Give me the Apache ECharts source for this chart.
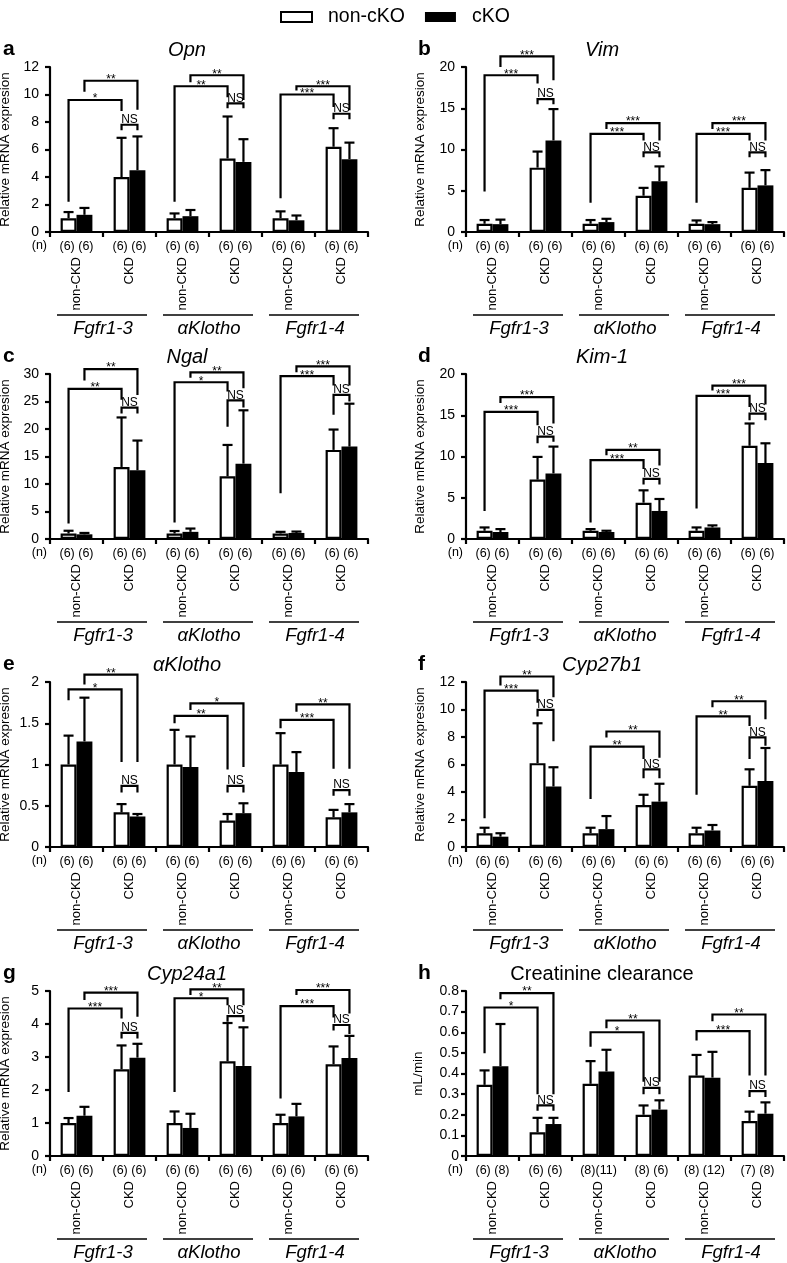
<!DOCTYPE html>
<html><head><meta charset="utf-8">
<script src="https://cdn.jsdelivr.net/npm/echarts@6/dist/echarts.min.js"></script>
<style>html,body{margin:0;padding:0;background:#fff}#c{width:787px;height:1263px}</style>
</head><body><div id="c"></div>
<script>
// ---- categories / labels ----
const conditions = ['non-CKD','CKD','non-CKD','CKD','non-CKD','CKD'];
const genes = ['Fgfr1-3','αKlotho','Fgfr1-4'];
const nMrna = ['(6) (6)','(6) (6)','(6) (6)','(6) (6)','(6) (6)','(6) (6)'];
const nClearance = ['(6) (8)','(6) (6)','(8)(11)','(8) (6)','(8) (12)','(7) (8)'];
const seriesNames = ['non-cKO','cKO'];

// ---- a: Opn ----
const opnNonCko   = [1.0, 4.0, 1.0, 5.35, 1.0, 6.2];
const opnNonCkoSd = [1.45, 6.85, 1.35, 8.4, 1.5, 7.55];
const opnCko      = [1.25, 4.5, 1.15, 5.1, 0.85, 5.3];
const opnCkoSd    = [1.75, 6.95, 1.6, 6.75, 1.2, 6.5];
// per gene group: white bracket [left,top,right], black bracket [left,top,right], NS bracket [left,top,right]
const opnBrackets = [[2.2,9.6,8.8, 10.2,11.0,8.9, 7.4,7.8,7.4],[2.2,10.6,9.8, 10.9,11.4,9.6, 9.0,9.35,9.0],[2.45,10.0,9.1, 10.3,10.6,8.85, 8.2,8.6,8.2]];
const opnStars = [['*','**'],['**','**'],['***','***']];

// ---- b: Vim ----
const vimNonCko   = [1.0, 7.8, 1.0, 4.4, 1.0, 5.35];
const vimNonCkoSd = [1.45, 9.75, 1.45, 5.35, 1.4, 7.2];
const vimCko      = [0.95, 11.1, 1.2, 6.15, 0.95, 5.65];
const vimCkoSd    = [1.5, 14.9, 1.6, 7.95, 1.2, 7.5];
const vimBrackets = [[4.9,19.0,18.0, 20.0,21.3,18.4, 15.5,16.1,15.5],[3.55,11.9,11.1, 12.5,13.2,11.1, 9.05,9.65,9.05],[3.55,11.9,11.1, 12.5,13.2,11.1, 9.05,9.65,9.05]];
const vimStars = [['***','***'],['***','***'],['***','***']];

// ---- c: Ngal ----
const ngalNonCko   = [1.0, 13.1, 1.0, 11.4, 1.0, 16.2];
const ngalNonCkoSd = [1.5, 22.1, 1.45, 17.1, 1.3, 19.9];
const ngalCko      = [0.85, 12.5, 1.3, 13.7, 1.1, 16.8];
const ngalCkoSd    = [1.1, 17.9, 1.9, 23.4, 1.35, 24.6];
const ngalBrackets = [[2.8,27.3,25.3, 28.8,30.9,26.2, 22.8,23.9,22.8],[3.0,28.5,26.8, 29.3,30.3,27.4, 20.4,25.2,23.9],[8.3,29.6,27.9, 30.3,31.4,27.9, 22.6,26.2,25.0]];
const ngalStars = [['**','**'],['*','**'],['***','***']];

// ---- d: Kim-1 ----
const kimNonCko   = [1.0, 7.2, 1.0, 4.4, 1.0, 11.3];
const kimNonCkoSd = [1.4, 9.95, 1.2, 5.9, 1.4, 14.0];
const kimCko      = [0.85, 7.95, 0.85, 3.4, 1.4, 9.2];
const kimCkoSd    = [1.2, 11.2, 1.0, 4.85, 1.65, 11.6];
const kimBrackets = [[3.4,15.4,13.8, 16.5,17.2,14.0, 11.6,12.4,11.8],[2.0,9.55,8.5, 10.15,10.8,8.9, 6.6,7.3,6.6],[3.7,17.35,16.0, 18.0,18.6,16.3, 14.4,15.2,14.4]];
const kimStars = [['***','***'],['***','**'],['***','***']];

// ---- e: aKlotho ----
const klNonCko   = [1.0, 0.42, 1.0, 0.32, 1.0, 0.36];
const klNonCkoSd = [1.35, 0.52, 1.42, 0.40, 1.38, 0.45];
const klCko      = [1.28, 0.37, 0.97, 0.41, 0.91, 0.42];
const klCkoSd    = [1.81, 0.40, 1.34, 0.53, 1.15, 0.52];
const klBrackets = [[1.78,1.91,1.03, 1.97,2.09,1.03, 0.66,0.74,0.66],[1.50,1.59,0.94, 1.66,1.74,0.97, 0.66,0.74,0.66],[1.44,1.54,0.95, 1.64,1.73,0.95, 0.62,0.69,0.62]];
const klStars = [['*','**'],['**','*'],['***','**']];

// ---- f: Cyp27b1 ----
const c27NonCko   = [1.0, 6.1, 1.0, 3.05, 1.0, 4.45];
const c27NonCkoSd = [1.4, 9.0, 1.4, 3.8, 1.4, 5.65];
const c27Cko      = [0.75, 4.4, 1.3, 3.3, 1.2, 4.8];
const c27CkoSd    = [1.0, 5.8, 2.25, 4.6, 1.6, 7.2];
const c27Brackets = [[2.1,11.38,10.5, 11.75,12.4,10.9, 9.5,9.97,7.7],[3.5,7.3,6.4, 7.97,8.4,6.5, 5.0,5.65,5.0],[3.8,9.5,8.8, 10.17,10.6,9.3, 6.4,7.97,7.36]];
const c27Stars = [['***','**'],['**','**'],['**','**']];

// ---- g: Cyp24a1 ----
const c24NonCko   = [1.0, 2.63, 1.0, 2.87, 1.0, 2.78];
const c24NonCkoSd = [1.15, 3.35, 1.35, 4.03, 1.25, 3.32];
const c24Cko      = [1.22, 2.98, 0.85, 2.73, 1.2, 2.97];
const c24CkoSd    = [1.49, 3.4, 1.28, 3.9, 1.58, 3.64];
const c24Brackets = [[1.94,4.47,4.17, 4.73,4.95,4.22, 3.56,3.73,3.56],[1.94,4.78,4.57, 4.88,5.05,4.57, 4.07,4.24,4.07],[1.74,4.54,4.2, 4.88,5.03,4.32, 3.8,3.97,3.7]];
const c24Stars = [['***','***'],['*','**'],['***','***']];

// ---- h: Creatinine clearance ----
const ccrNonCko   = [0.345, 0.115, 0.35, 0.20, 0.39, 0.17];
const ccrNonCkoSd = [0.415, 0.185, 0.46, 0.245, 0.49, 0.215];
const ccrCko      = [0.435, 0.155, 0.41, 0.225, 0.38, 0.205];
const ccrCkoSd    = [0.64, 0.185, 0.515, 0.27, 0.505, 0.26];
const ccrBrackets = [[0.498,0.72,0.30, 0.76,0.79,0.30, 0.22,0.245,0.22],[0.53,0.60,0.36, 0.62,0.657,0.36, 0.30,0.33,0.30],[0.56,0.605,0.39, 0.653,0.686,0.39, 0.286,0.315,0.286]];
const ccrStars = [['*','**'],['*','**'],['***','**']];

const FONT = '"Liberation Sans", Arial, Helvetica, sans-serif';
const mrna = 'Relative mRNA expresion';
const panels = [
 {letter:'a', title:'Opn', italic:true, yName:mrna, max:12, interval:2, w:opnNonCko, we:opnNonCkoSd, b:opnCko, be:opnCkoSd, br:opnBrackets, st:opnStars, n:nMrna},
 {letter:'b', title:'Vim', italic:true, yName:mrna, max:20, interval:5, w:vimNonCko, we:vimNonCkoSd, b:vimCko, be:vimCkoSd, br:vimBrackets, st:vimStars, n:nMrna},
 {letter:'c', title:'Ngal', italic:true, yName:mrna, max:30, interval:5, w:ngalNonCko, we:ngalNonCkoSd, b:ngalCko, be:ngalCkoSd, br:ngalBrackets, st:ngalStars, n:nMrna},
 {letter:'d', title:'Kim-1', italic:true, yName:mrna, max:20, interval:5, w:kimNonCko, we:kimNonCkoSd, b:kimCko, be:kimCkoSd, br:kimBrackets, st:kimStars, n:nMrna},
 {letter:'e', title:'αKlotho', italic:true, yName:mrna, max:2, interval:0.5, w:klNonCko, we:klNonCkoSd, b:klCko, be:klCkoSd, br:klBrackets, st:klStars, n:nMrna},
 {letter:'f', title:'Cyp27b1', italic:true, yName:mrna, max:12, interval:2, w:c27NonCko, we:c27NonCkoSd, b:c27Cko, be:c27CkoSd, br:c27Brackets, st:c27Stars, n:nMrna},
 {letter:'g', title:'Cyp24a1', italic:true, yName:mrna, max:5, interval:1, w:c24NonCko, we:c24NonCkoSd, b:c24Cko, be:c24CkoSd, br:c24Brackets, st:c24Stars, n:nMrna},
 {letter:'h', title:'Creatinine clearance', italic:false, yName:'mL/min', max:0.8, interval:0.1, w:ccrNonCko, we:ccrNonCkoSd, b:ccrCko, be:ccrCkoSd, br:ccrBrackets, st:ccrStars, n:nClearance, fmt:v => v === 0 ? '0' : v.toFixed(1), labelMargin:7, nameGap:41}
];

const lefts = [50, 466], tops = [67, 374, 682, 991], W = 318, H = 165, titleX = [187, 602], letterX = [3, 418];
const OFF = 0.15; // bar centre offset (fraction of band)

const option = {
  animation:false,
  textStyle:{fontFamily:FONT, color:'#000'},
  legend:{data:seriesNames, left:275, top:2, icon:'rect', itemWidth:31, itemHeight:10, itemGap:20, selectedMode:false,
    textStyle:{fontSize:19.5, color:'#000', fontFamily:FONT, padding:[0,0,0,11]}},
  grid:[], xAxis:[], yAxis:[], series:[], graphic:[]
};

function errRenderer(params, api){
  const cat = api.value(0), side = api.value(1);
  const bw = api.size([1,0])[0];
  const cx = api.coord([cat,0])[0] + (side ? 1 : -1) * bw * OFF;
  const y0 = api.coord([cat, api.value(2)])[1];
  const y1 = api.coord([cat, api.value(3)])[1];
  const st = {stroke:'#000', lineWidth:2.2};
  return {type:'group', children:[
    {type:'line', shape:{x1:cx, y1:y0, x2:cx, y2:y1}, style:st},
    {type:'line', shape:{x1:cx-5, y1:y1, x2:cx+5, y2:y1}, style:st}
  ]};
}

function makeBracketRenderer(stars){
  return function(params, api){
    const g = api.value(0);
    const bw = api.size([1,0])[0];
    const X = (cat, side) => api.coord([cat,0])[0] + (side ? 1 : -1) * bw * OFF;
    const Y = v => api.coord([0, v])[1];
    const v = k => api.value(k + 1);
    const st = {stroke:'#000', lineWidth:2.2, fill:null, lineJoin:'miter'};
    const kids = [];
    const br = (x1, x2, a, t, b, label, isNS) => {
      const yt = Y(t);
      kids.push({type:'polyline', shape:{points:[[x1, Y(a)], [x1, yt], [x2, yt], [x2, Y(b)]]}, style:st});
      kids.push({type:'text', x:(x1 + x2) / 2, y: isNS ? yt + 1 : yt - 1,
        style:{text:label, fill:'#000', fontFamily:FONT, fontSize: isNS ? 12 : 12, align:'center', verticalAlign: isNS ? 'bottom' : 'middle'}});
    };
    br(X(2*g,0), X(2*g+1,0), v(0), v(1), v(2), stars[g][0], false);
    br(X(2*g,1), X(2*g+1,1), v(3), v(4), v(5), stars[g][1], false);
    br(X(2*g+1,0), X(2*g+1,1), v(6), v(7), v(8), 'NS', true);
    // gene group underline + label
    const bottom = Y(0);
    const pc = api.coord([2*g,0])[0] + bw / 2;
    kids.push({type:'line', shape:{x1:pc-46, y1:bottom+83, x2:pc+44, y2:bottom+83}, style:{stroke:'#000', lineWidth:1.5}});
    kids.push({type:'text', x:pc, y:bottom+97, style:{text:genes[g], fill:'#000', fontFamily:FONT, fontSize:18.5, fontStyle:'italic', align:'center', verticalAlign:'middle'}});
    return {type:'group', children:kids};
  };
}

panels.forEach((p, i) => {
  const col = i % 2, row = Math.floor(i / 2);
  const left = lefts[col], top = tops[row];
  option.grid.push({left, top, width:W, height:H, outerBoundsMode:'none'});
  const xi = option.xAxis.length;
  option.xAxis.push({type:'category', gridIndex:i, data:conditions, position:'bottom',
    axisLine:{show:true, onZero:false, lineStyle:{color:'#000', width:2.2}},
    axisTick:{show:true, length:5, interval:0, lineStyle:{color:'#000', width:2.2}},
    axisLabel:{interval:0, rotate:90, margin:25, fontSize:13, color:'#000', fontFamily:FONT},
    splitLine:{show:false}});
  option.xAxis.push({type:'category', gridIndex:i, data:p.n, position:'bottom',
    axisLine:{show:false}, axisTick:{show:false}, splitLine:{show:false},
    axisLabel:{interval:0, margin:8, fontSize:12.5, color:'#000', fontFamily:FONT}});
  option.yAxis.push({type:'value', gridIndex:i, min:0, max:p.max, interval:p.interval,
    name:p.yName, nameLocation:'middle', nameGap:p.nameGap || (col ? 39 : 38),
    nameTextStyle:{fontSize:13.5, color:'#000', fontFamily:FONT},
    axisLine:{show:true, lineStyle:{color:'#000', width:2.2}},
    axisTick:{show:true, length:5, lineStyle:{color:'#000', width:2.2}},
    axisLabel:{fontSize:14, color:'#000', fontFamily:FONT, margin:p.labelMargin || 11, formatter:p.fmt},
    splitLine:{show:false}});
  option.series.push({type:'bar', name:seriesNames[0], xAxisIndex:xi, yAxisIndex:i, data:p.w, barWidth:'30%', barGap:'0%',
    itemStyle:{color:'#fff', borderColor:'#000', borderWidth:2.2}, z:2});
  option.series.push({type:'bar', name:seriesNames[1], xAxisIndex:xi, yAxisIndex:i, data:p.b, barWidth:'30%', barGap:'0%',
    itemStyle:{color:'#000', borderColor:'#000', borderWidth:0}, z:2});
  const errData = p.w.map((v,k) => [k, 0, v, p.we[k]]).concat(p.b.map((v,k) => [k, 1, v, p.be[k]]));
  option.series.push({type:'custom', xAxisIndex:xi, yAxisIndex:i, data:errData, renderItem:errRenderer, z:4, silent:true});
  option.series.push({type:'custom', xAxisIndex:xi, yAxisIndex:i, data:p.br.map((r,g) => [g].concat(r)),
    renderItem:makeBracketRenderer(p.st), clip:false, z:5, silent:true});
  option.graphic.push({type:'text', x:letterX[col], y:top-18, style:{text:p.letter, fill:'#000', fontFamily:FONT, fontSize:21, fontWeight:'bold', align:'left', verticalAlign:'middle'}});
  option.graphic.push({type:'text', x:titleX[col], y:top-17, style:{text:p.title, fill:'#000', fontFamily:FONT, fontSize:20, fontStyle:p.italic ? 'italic' : 'normal', align:'center', verticalAlign:'middle'}});
  option.graphic.push({type:'text', x:left-3, y:top+H+14, style:{text:'(n)', fill:'#000', fontFamily:FONT, fontSize:12.5, align:'right', verticalAlign:'middle'}});
});

const chart = echarts.init(document.getElementById('c'), null, {renderer:'canvas'});
chart.setOption(option);
</script>
</body></html>
